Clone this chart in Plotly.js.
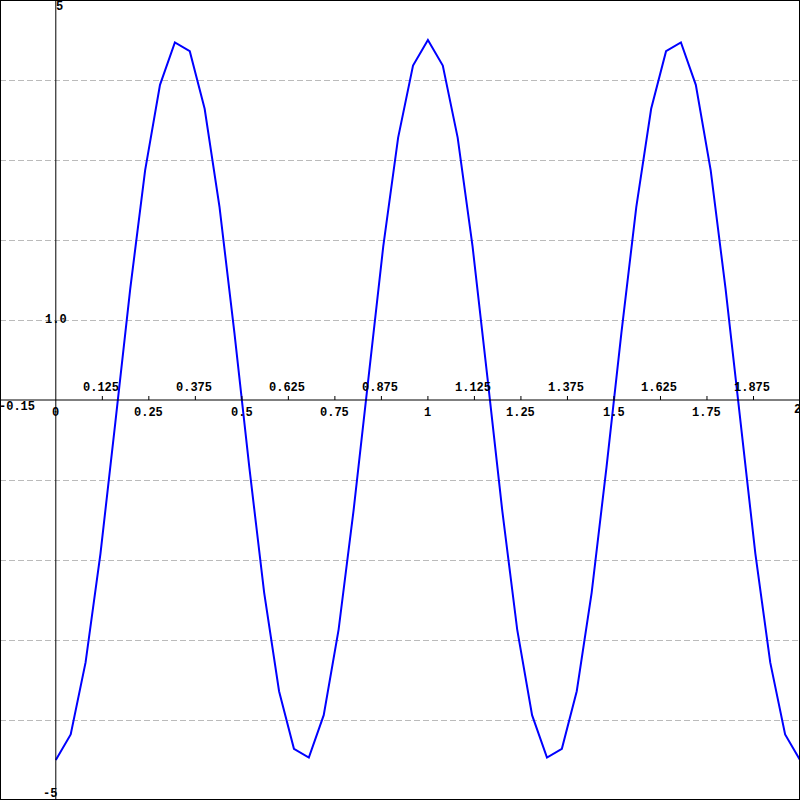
<!DOCTYPE html>
<html>
<head>
<meta charset="utf-8">
<script src="https://cdn.plot.ly/plotly-3.0.1.min.js"></script>
<style>html,body{margin:0;padding:0;background:#fff}#chart{width:800px;height:800px}</style>
</head>
<body>
<div id="chart"></div>
<script>
// Data
const xValues = [0, 0.04, 0.08, 0.12, 0.16, 0.2, 0.24, 0.28, 0.32, 0.36, 0.4, 0.44, 0.48, 0.52, 0.56, 0.6, 0.64, 0.68, 0.72, 0.76, 0.8, 0.84, 0.88, 0.92, 0.96, 1.0,
  1.04, 1.08, 1.12, 1.16, 1.2, 1.24, 1.28, 1.32, 1.36, 1.4, 1.44, 1.48, 1.52, 1.56, 1.6, 1.64, 1.68, 1.72, 1.76, 1.8, 1.84, 1.88, 1.92, 1.96, 2.0];
const yValues = [-4.5, -4.18, -3.28, -1.92, -0.28, 1.39, 2.87, 3.94, 4.47, 4.36, 3.64, 2.41, 0.84, -0.84, -2.41, -3.64, -4.36, -4.47, -3.94, -2.87, -1.39, 0.28, 1.92, 3.28, 4.18, 4.5,
  4.18, 3.28, 1.92, 0.28, -1.39, -2.87, -3.94, -4.47, -4.36, -3.64, -2.41, -0.84, 0.84, 2.41, 3.64, 4.36, 4.47, 3.94, 2.87, 1.39, -0.28, -1.92, -3.28, -4.18, -4.5];
const xLowerTicks = [0.25, 0.5, 0.75, 1, 1.25, 1.5, 1.75];
const xLowerLabels = ['0.25', '0.5', '0.75', '1', '1.25', '1.5', '1.75'];
const xUpperTicks = [0.125, 0.375, 0.625, 0.875, 1.125, 1.375, 1.625, 1.875];
const xUpperLabels = ['0.125', '0.375', '0.625', '0.875', '1.125', '1.375', '1.625', '1.875'];
const yGridValues = [-4, -3, -2, -1, 1, 2, 3, 4];
const xRange = [-0.15, 2];
const yRange = [-5, 5];

const font = {family: '"Liberation Mono", "DejaVu Sans Mono", monospace', size: 12, color: '#000', weight: 'bold'};

const shapes = [];
// axis lines
shapes.push({type: 'line', xref: 'x', yref: 'paper', x0: 0, x1: 0, y0: 0, y1: 1, line: {color: '#000', width: 1}});
shapes.push({type: 'line', xref: 'paper', yref: 'y', x0: 0, x1: 1, y0: 0, y1: 0, line: {color: '#000', width: 1}});
// tick marks
const allTicks = xUpperTicks.concat(xLowerTicks);
allTicks.forEach(t => {
  shapes.push({type: 'line', xref: 'x', yref: 'y', ysizemode: 'pixel', yanchor: 0, x0: t, x1: t, y0: 0, y1: 4, line: {color: '#000', width: 1}});
});
// frame
shapes.push({type: 'rect', xref: 'paper', yref: 'paper', x0: 0, x1: 1, y0: 0, y1: 1, line: {color: '#000', width: 2}});

const annotations = [];
xLowerTicks.forEach((t, i) => annotations.push({x: t, y: 0, xref: 'x', yref: 'y', text: xLowerLabels[i], showarrow: false, xanchor: 'center', yanchor: 'middle', yshift: -13, font: font}));
xUpperTicks.forEach((t, i) => annotations.push({x: t, y: 0, xref: 'x', yref: 'y', text: xUpperLabels[i], showarrow: false, xanchor: 'center', yanchor: 'middle', xshift: -1, yshift: 12, font: font}));
annotations.push({x: 0, y: 0, xref: 'x', yref: 'y', text: '0', showarrow: false, xanchor: 'center', yanchor: 'middle', yshift: -13, font: font});
annotations.push({x: xRange[1], y: 0, xref: 'x', yref: 'y', text: '2', showarrow: false, xanchor: 'left', yanchor: 'middle', xshift: -8, yshift: -10, font: font});
annotations.push({x: xRange[0], y: 0, xref: 'x', yref: 'y', text: '-0.15', showarrow: false, xanchor: 'left', yanchor: 'middle', xshift: -3, yshift: -7, font: font});
annotations.push({x: 0, y: 1, xref: 'x', yref: 'y', text: '1.0', showarrow: false, xanchor: 'center', yanchor: 'middle', font: font});
annotations.push({x: 0, y: yRange[1], xref: 'x', yref: 'y', text: '5', showarrow: false, xanchor: 'left', yanchor: 'top', xshift: -2, yshift: 2, font: font});
annotations.push({x: 0, y: yRange[0], xref: 'x', yref: 'y', text: '-5', showarrow: false, xanchor: 'right', yanchor: 'bottom', xshift: 3, yshift: -3, font: font});

const trace = {x: xValues, y: yValues, type: 'scatter', mode: 'lines', line: {color: '#0000ff', width: 2}, hoverinfo: 'skip'};

const layout = {
  width: 800, height: 800,
  margin: {l: 0, r: 0, t: 0, b: 0, pad: 0},
  paper_bgcolor: '#fff', plot_bgcolor: '#fff',
  showlegend: false,
  xaxis: {range: xRange, showgrid: false, zeroline: false, showticklabels: false, ticks: '', showline: false, fixedrange: true},
  yaxis: {range: yRange, tickmode: 'array', tickvals: yGridValues, showgrid: true, gridcolor: '#bbbbbb', griddash: '6px,3px', gridwidth: 1, zeroline: false, showticklabels: false, ticks: '', showline: false, fixedrange: true},
  shapes: shapes,
  annotations: annotations
};

Plotly.newPlot('chart', [trace], layout, {staticPlot: true, displayModeBar: false});
</script>
</body>
</html>
